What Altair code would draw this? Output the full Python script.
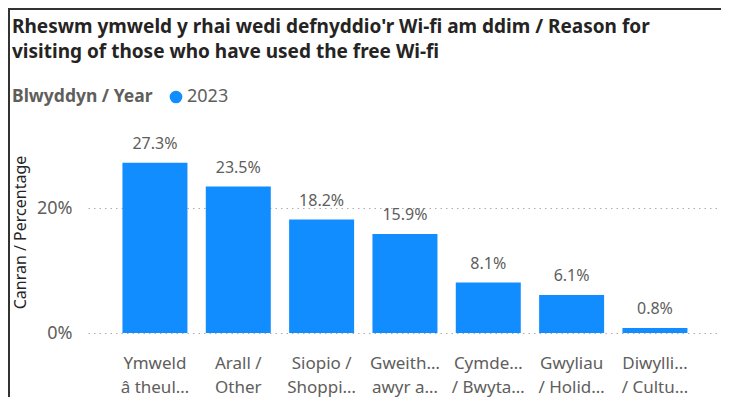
import altair as alt
import pandas as pd

categories = ["Ymweld|â theul…", "Arall /|Other", "Siopio /|Shoppi…", "Gweith…|awyr a…",
              "Cymde…|/ Bwyta…", "Gwyliau|/ Holid…", "Diwylli…|/ Cultu…"]
values = [27.3, 23.5, 18.2, 15.9, 8.1, 6.1, 0.8]
year = "2023"
title_lines = ["Rheswm ymweld y rhai wedi defnyddio'r Wi-fi am ddim / Reason for",
               "visiting of those who have used the free Wi-fi"]
y_ticks = [0, 20]

df = pd.DataFrame({"cat": categories, "val": values, "year": [year] * len(values)})
df["label"] = df["val"].map(lambda v: f"{v:.1f}%")

FONT = "Noto Sans"
BLUE = "#118DFF"
GREY = "#605E5C"
DARK = "#252423"

x = alt.X("cat:N", sort=None, title=None,
          scale=alt.Scale(paddingInner=0.22, paddingOuter=0.39, align=0.53),
          axis=alt.Axis(labelExpr="split(datum.label, '|')", labelAngle=0, labelFontSize=17,
                        labelColor=GREY, labelFont=FONT, labelLineHeight=24, labelPadding=30,
                        labelBaseline="middle", domain=False, ticks=False, labelLimit=200))
y = alt.Y("val:Q", title="Canran / Percentage",
          scale=alt.Scale(domain=[0, 30], nice=False),
          axis=alt.Axis(values=y_ticks, labelExpr="datum.value + '%'", labelFontSize=18,
                        labelColor=GREY, labelFont=FONT, labelPadding=16,
                        grid=True, gridDash=[1.5, 4], gridColor="#B0AEAC", gridWidth=1,
                        domain=False, ticks=False,
                        titleX=-68, titleY=86, titleAngle=-90, titleAlign="center",
                        titleBaseline="middle", titleFontSize=16, titleFontWeight="normal",
                        titleColor=DARK, titleFont=FONT))

bars = alt.Chart(df).mark_bar(color=BLUE).encode(
    x=x, y=y,
    color=alt.Color("year:N", scale=alt.Scale(range=[BLUE]),
                    legend=alt.Legend(title="Blwyddyn / Year", orient="none", legendX=-76,
                                      legendY=-58, direction="horizontal", titleOrient="left",
                                      symbolType="circle", symbolSize=160, symbolStrokeWidth=0,
                                      titleFontSize=17.5, titleFont=FONT, titleColor=GREY,
                                      titleFontWeight="bold", labelFontSize=18, labelFont=FONT,
                                      labelColor=GREY, titlePadding=14, labelOffset=2)),
)
labels = alt.Chart(df).mark_text(baseline="alphabetic", dy=-14, fontSize=16, font=FONT,
                                 color=GREY).encode(x=x, y=y, text="label:N")

frame = alt.Data(values=[{"a": 1}])
left_border = alt.Chart(frame).mark_rule(color="#333333", strokeWidth=2, clip=False).encode(
    x=alt.value(-79), y=alt.value(-137), y2=alt.value(251))
top_border = alt.Chart(frame).mark_rule(color="#333333", strokeWidth=2, clip=False).encode(
    x=alt.value(-80), x2=alt.value(633), y=alt.value(-137))

chart = alt.layer(bars, labels, left_border, top_border).properties(
    width=630, height=187,
    padding={"left": 80, "top": 138, "right": 3, "bottom": 64},
    autosize=alt.AutoSizeParams(type="none"),
    title=alt.TitleParams(text=title_lines, anchor="start", frame="group", dx=-76,
                          fontSize=19, font=FONT, fontWeight="bold", color=DARK,
                          lineHeight=25, offset=-54),
    background="white",
).configure_view(stroke=None)

chart.save("out.html", embed_options={"renderer": "svg", "actions": False})
